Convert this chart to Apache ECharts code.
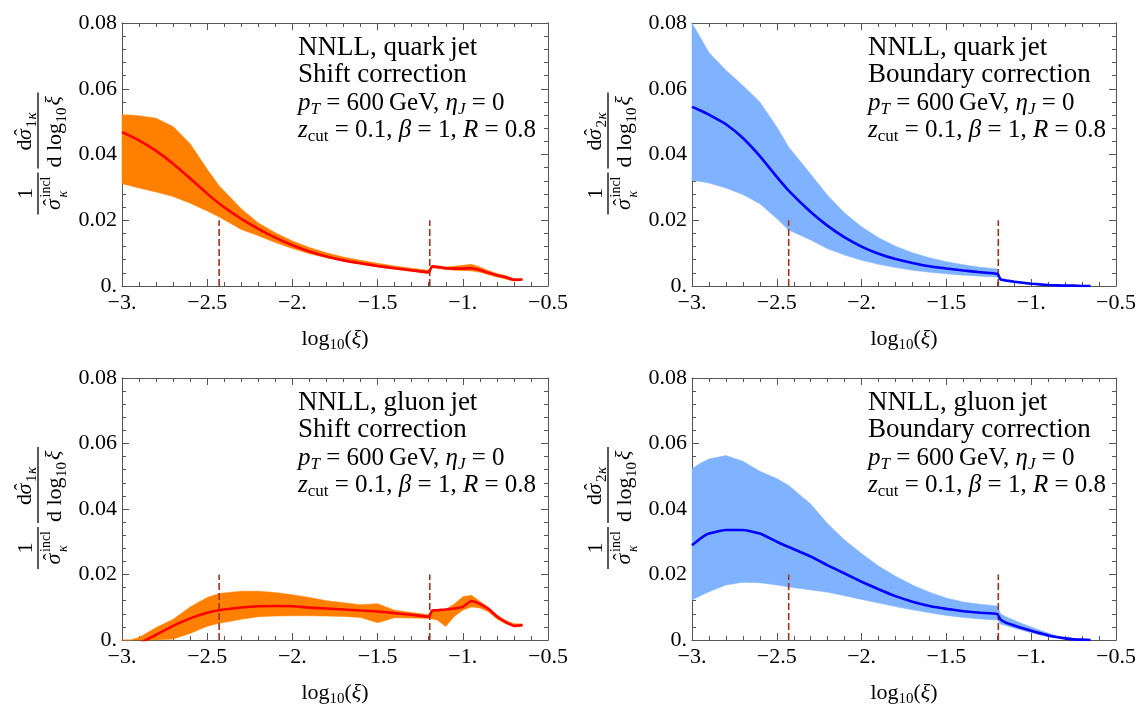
<!DOCTYPE html>
<html><head><meta charset="utf-8">
<script src="https://cdn.jsdelivr.net/npm/echarts@6/dist/echarts.min.js"></script>
<style>html,body{margin:0;padding:0;background:#fff}#c{width:1141px;height:708px}</style>
</head><body><div id="c"></div>
<script>
// ---------- data ----------
const X = [-3, -2.95, -2.9, -2.8, -2.7, -2.6, -2.5, -2.43, -2.3, -2.2, -2.1, -2.0, -1.9, -1.8, -1.7, -1.6, -1.5, -1.4, -1.3, -1.2, -1.18, -1.15, -1.1, -1.05, -1.0, -0.95, -0.9, -0.85, -0.8, -0.75, -0.7, -0.65];

const quarkShiftCenter = [.0468,.0456,.0443,.0411,.0372,.0327,.0281,.0251,.0204,.0174,.0147,.0124,.0105,.0090,.0078,.0069,.0061,.0054,.0048,.0042,.0060,.0058,.0054,.0053,.0053,.0054,.0049,.0040,.0033,.0027,.0019,.0020];
const quarkShiftUpper  = [.0521,.0520,.0518,.0510,.0485,.0433,.0355,.0305,.0235,.0192,.0162,.0137,.0117,.0101,.0088,.0078,.0069,.0061,.0054,.0048,.0063,.0062,.0058,.0060,.0063,.0066,.0058,.0047,.0038,.0032,.0023,.0022];
const quarkShiftLower  = [.0311,.0305,.0298,.0286,.0272,.0252,.0228,.0210,.0172,.0153,.0132,.0114,.0098,.0086,.0076,.0066,.0058,.0051,.0044,.0038,.0055,.0053,.0050,.0048,.0047,.0046,.0042,.0034,.0027,.0021,.0015,.0018];

const quarkBoundCenter = [.0545,.0534,.0521,.0492,.0450,.0395,.0332,.0290,.0225,.0183,.0148,.0120,.0098,.0082,.0070,.0060,.0053,.0047,.0042,.0037,.0020,.0017,.0013,.0010,.0007,.0005,.0003,.0002,.0001,.0001,.0000,.0000];
const quarkBoundUpper  = [.0800,.0755,.0710,.0656,.0610,.0560,.0484,.0423,.0340,.0275,.0222,.0180,.0147,.0121,.0101,.0086,.0074,.0065,.0057,.0052,.0024,.0020,.0016,.0012,.0009,.0006,.0004,.0003,.0002,.0001,.0001,.0000];
const quarkBoundLower  = [.0321,.0318,.0313,.0298,.0278,.0250,.0205,.0170,.0140,.0113,.0094,.0078,.0066,.0056,.0048,.0042,.0037,.0033,.0030,.0027,.0016,.0013,.0010,.0008,.0005,.0004,.0002,.0001,.0001,.0000,.0000,.0000];

const gluonShiftCenter = [-.0040,-.0025,-.0011,.0016,.0043,.0066,.0083,.0091,.0099,.0103,.0104,.0103,.0099,.0096,.0093,.0090,.0087,.0082,.0077,.0071,.0090,.0091,.0093,.0096,.0101,.0119,.0110,.0095,.0072,.0055,.0043,.0046];
const gluonShiftUpper  = [0,0,.0008,.0038,.0063,.0101,.0130,.0142,.0149,.0149,.0145,.0138,.0130,.0120,.0114,.0108,.0111,.0091,.0084,.0077,.0093,.0093,.0094,.0110,.0132,.0137,.0118,.0100,.0077,.0060,.0050,.0049];
const gluonShiftLower  = [0,0,0,0,.0003,.0020,.0042,.0051,.0063,.0071,.0073,.0074,.0074,.0073,.0072,.0069,.0053,.0068,.0067,.0066,.0064,.0061,.0041,.0072,.0091,.0101,.0098,.0086,.0064,.0050,.0041,.0041];

const gluonBoundCenter = [.0289,.0310,.0325,.0336,.0336,.0325,.0300,.0284,.0255,.0228,.0203,.0178,.0155,.0134,.0117,.0104,.0095,.0088,.0083,.0079,.0062,.0053,.0044,.0036,.0028,.0021,.0014,.0009,.0005,.0002,.0001,.0000];
const gluonBoundUpper  = [.0523,.0540,.0553,.0563,.0546,.0515,.0493,.0472,.0415,.0355,.0305,.0264,.0226,.0195,.0168,.0146,.0128,.0116,.0109,.0104,.0080,.0071,.0060,.0049,.0040,.0030,.0021,.0013,.0008,.0004,.0001,.0000];
const gluonBoundLower  = [.0122,.0135,.0147,.0168,.0176,.0175,.0168,.0162,.0153,.0146,.0135,.0124,.0113,.0102,.0092,.0083,.0075,.0069,.0064,.0061,.0048,.0044,.0036,.0029,.0022,.0015,.0010,.0006,.0003,.0001,.0000,.0000];

const dashX = [-2.43, -1.194];
const dashTop = 0.02;

const xTickValues = [-3, -2.5, -2, -1.5, -1, -0.5];
const xTickLabels = ['\u22123.', '\u22122.5', '\u22122.', '\u22121.5', '\u22121.', '\u22120.5'];
const yTickValues = [0, 0.02, 0.04, 0.06, 0.08];
const yTickLabels = ['0.', '0.02', '0.04', '0.06', '0.08'];

const jetNames = ['quark', 'quark', 'gluon', 'gluon'];
const corrNames = ['Shift correction', 'Boundary correction', 'Shift correction', 'Boundary correction'];
const sigmaIndex = ['1', '2', '1', '2'];

// ---------- layout / style ----------
const FONT = '"Liberation Serif", "Times New Roman", serif';
const FRAME = '#555';
const ORANGE = '#ff8000', RED = '#ff0000', LBLUE = '#80b3ff', BLUE = '#0000ff', DASH = '#a3301d';
const panels = [
  {left: 122, top: 23, width: 426, height: 263, c: quarkShiftCenter, u: quarkShiftUpper, l: quarkShiftLower, band: ORANGE, line: RED},
  {left: 692, top: 23, width: 424, height: 263, c: quarkBoundCenter, u: quarkBoundUpper, l: quarkBoundLower, band: LBLUE, line: BLUE},
  {left: 122, top: 378, width: 426, height: 262, c: gluonShiftCenter, u: gluonShiftUpper, l: gluonShiftLower, band: ORANGE, line: RED},
  {left: 692, top: 378, width: 424, height: 262, c: gluonBoundCenter, u: gluonBoundUpper, l: gluonBoundLower, band: LBLUE, line: BLUE}
];

function fmt(vals, labs) {
  return v => { for (let i = 0; i < vals.length; i++) if (Math.abs(v - vals[i]) < 1e-9) return labs[i]; return ''; };
}
const lineSt = {color: FRAME, width: 1};
function xAxisDef(g, pos) {
  const a = {
    gridIndex: g, type: 'value', min: -3, max: -0.5, interval: 0.5, position: pos,
    axisLine: {show: true, onZero: false, lineStyle: lineSt},
    axisTick: {show: true, inside: true, length: 7, lineStyle: lineSt},
    minorTick: {show: true, splitNumber: 5, length: 4, lineStyle: lineSt},
    splitLine: {show: false}, minorSplitLine: {show: false},
    axisLabel: {show: pos === 'bottom', formatter: fmt(xTickValues, xTickLabels), fontFamily: FONT, fontSize: 22, color: '#000', margin: 6}
  };
  if (pos === 'bottom') {
    a.name = '{n|log}{s|10}{n|(}{i|\u03be}{n|)}';
    a.nameLocation = 'middle';
    a.nameGap = 40;
    a.nameTextStyle = {rich: {
      n: {fontFamily: FONT, fontSize: 22, color: '#000'},
      i: {fontFamily: FONT, fontSize: 22, fontStyle: 'italic', color: '#000'},
      s: {fontFamily: FONT, fontSize: 15, color: '#000', padding: [12, 0, 0, 0]}
    }};
  }
  return a;
}
function yAxisDef(g, pos) {
  return {
    gridIndex: g, type: 'value', min: 0, max: 0.08, interval: 0.02, position: pos,
    axisLine: {show: true, onZero: false, lineStyle: lineSt},
    axisTick: {show: true, inside: true, length: 7, lineStyle: lineSt},
    minorTick: {show: true, splitNumber: 5, length: 4, lineStyle: lineSt},
    splitLine: {show: false}, minorSplitLine: {show: false},
    axisLabel: {show: pos === 'left', formatter: fmt(yTickValues, yTickLabels), fontFamily: FONT, fontSize: 22, color: '#000', margin: 5}
  };
}

const grids = [], xAxes = [], yAxes = [], series = [], graphics = [];
const annRich = {
  r: {fontFamily: FONT, fontSize: 25, color: '#000'},
  i: {fontFamily: FONT, fontSize: 25, fontStyle: 'italic', color: '#000'},
  s: {fontFamily: FONT, fontSize: 17, color: '#000', padding: [13, 0, 0, 0]},
  si: {fontFamily: FONT, fontSize: 17, fontStyle: 'italic', color: '#000', padding: [13, 0, 0, 0]}
};
function txt(text, x, y, size, italic, align) {
  return {type: 'text', x: x, y: y, style: {text: text, fontFamily: FONT, fontSize: size, fontStyle: italic ? 'italic' : 'normal', fill: '#000', align: align || 'left', verticalAlign: 'middle'}};
}
function bar(x1, x2) {
  return {type: 'line', shape: {x1: x1, y1: 0, x2: x2, y2: 0}, style: {stroke: '#000', lineWidth: 1.3}};
}
function sigmaHat(cx, cy) {
  return [txt('\u03c3', cx, cy, 22, true, 'center'), txt('\u02c6', cx + 2, cy - 1, 20, false, 'center')];
}
function yTitle(gx, gy, n) {
  return {type: 'group', x: gx, y: gy, rotation: Math.PI / 2, children: [].concat(
    [txt('1', -39, -12, 22, false, 'center'), bar(-60, -18)],
    sigmaHat(-50, 16),
    [txt('incl', -43, 8, 14, false), txt('\u03ba', -43, 25, 14, true), bar(-14, 62),
     txt('d', 4, -13, 22, false)],
    sigmaHat(20, -13),
    [txt(n, 27, -6, 15, false), txt('\u03ba', 35, -6, 15, true),
     txt('d log', -13, 17, 22, false), txt('10', 32, 24, 15, false), txt('\u03be', 49, 16, 22, true)]
  )};
}

panels.forEach((p, k) => {
  grids.push({left: p.left, top: p.top, width: p.width, height: p.height, containLabel: false});
  xAxes.push(xAxisDef(k, 'bottom'), xAxisDef(k, 'top'));
  yAxes.push(yAxisDef(k, 'left'), yAxisDef(k, 'right'));
  const xi = 2 * k, yi = 2 * k;
  // uncertainty band: polygon through upper values then lower values, placed with the axes' scales
  series.push({
    type: 'custom', xAxisIndex: xi, yAxisIndex: yi, silent: true, animation: false, z: 1,
    data: X.map((x, i) => [x, p.l[i], p.u[i]]),
    encode: {x: 0, y: [1, 2]},
    renderItem: function (params, api) {
      if (params.dataIndex !== 0) return null;
      const pts = [];
      for (let i = 0; i < X.length; i++) pts.push(api.coord([X[i], p.u[i]]));
      for (let i = X.length - 1; i >= 0; i--) pts.push(api.coord([X[i], p.l[i]]));
      return {type: 'polygon', shape: {points: pts}, style: {fill: p.band, stroke: p.band, lineWidth: 0.5}};
    }
  });
  dashX.forEach(dx => {
    series.push({type: 'line', xAxisIndex: xi, yAxisIndex: yi, symbol: 'none', silent: true, animation: false,
      data: [[dx, 0], [dx, dashTop]], lineStyle: {color: DASH, width: 1.6, type: [7, 3]}, z: 3});
  });
  series.push({
    type: 'line', xAxisIndex: xi, yAxisIndex: yi, symbol: 'none', showSymbol: false, silent: true, animation: false,
    smooth: 0.15, data: X.map((x, i) => [x, p.c[i]]),
    lineStyle: {color: p.line, width: 2.6}, z: 4
  });

  // annotation
  const ax = p.left + 176, ay = p.top;
  const lines = [
    {t: '{r|NNLL, ' + jetNames[k] + '\u2009jet}', s: 27},
    {t: '{r|' + corrNames[k] + '}', s: 27},
    {t: '{i|p}{si|T}{r| = 600\u2009GeV, }{i|\u03b7}{si|J}{r| = 0}', s: 25},
    {t: '{i|z}{s|cut}{r| = 0.1, }{i|\u03b2}{r| = 1, }{i|R}{r| = 0.8}', s: 25}
  ];
  const offs = [25, 52, 80, 107];
  lines.forEach((L, j) => {
    const rich = JSON.parse(JSON.stringify(annRich));
    rich.r.fontSize = L.s; rich.i.fontSize = L.s;
    graphics.push({type: 'text', x: ax, y: ay + offs[j], z: 10, style: {text: L.t, rich: rich, fontFamily: FONT, fontSize: L.s, fill: '#000', align: 'left', verticalAlign: 'middle'}});
  });
  graphics.push(yTitle(p.left - 84, p.top + p.height / 2, sigmaIndex[k]));
});

const chart = echarts.init(document.getElementById('c'), null, {renderer: 'canvas'});
chart.setOption({
  backgroundColor: '#fff',
  animation: false,
  grid: grids,
  xAxis: xAxes,
  yAxis: yAxes,
  series: series,
  graphic: graphics
});
</script>
</body></html>
